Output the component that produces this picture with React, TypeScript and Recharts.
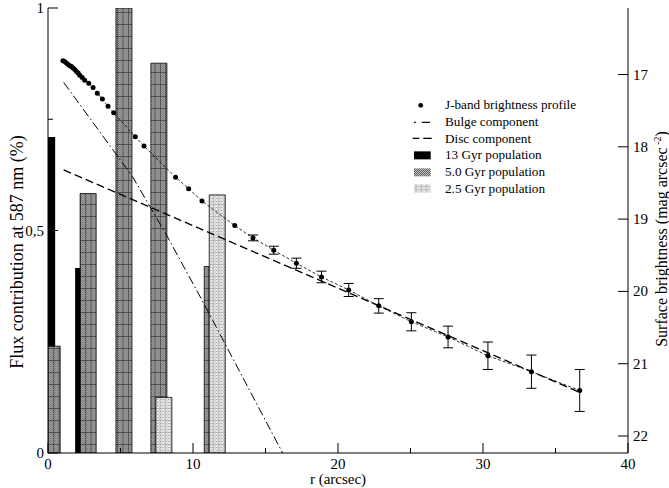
import { ComposedChart, Bar, Line, XAxis, YAxis, Legend, ErrorBar, Label } from "recharts";

// radial bins of the population synthesis (arcsec) and flux fractions
const binR = [0.32, 2.8, 5.27, 7.68, 11.36];
const pop13 = [0.71, 0.416, 0, 0, 0];
const pop50 = [0.24, 0.583, 1.0, 0.876, 0.419];
const pop25 = [0, 0, 0, 0.125, 0.58];

// J-band surface brightness profile (mag arcsec^-2)
const jR = [1.03, 1.15, 1.27, 1.39, 1.5, 1.62, 1.73, 1.85, 1.96, 2.08, 2.19, 2.36, 2.53, 2.81, 3.11, 3.4, 3.75, 4.14, 4.53, 6.02, 6.62, 8.8, 9.7, 10.62, 12.88, 14.14, 15.57, 17.13, 18.86, 20.74, 22.81, 25.06, 27.59, 30.34, 33.34, 36.67];
const jMag = [16.81, 16.82, 16.84, 16.86, 16.88, 16.89, 16.91, 16.93, 16.96, 16.98, 17.01, 17.04, 17.08, 17.12, 17.18, 17.26, 17.34, 17.44, 17.53, 17.86, 17.99, 18.42, 18.58, 18.75, 19.09, 19.26, 19.43, 19.61, 19.8, 19.98, 20.2, 20.42, 20.63, 20.89, 21.11, 21.37];
const jErr = [null, null, null, null, null, null, null, null, null, null, null, null, null, null, null, null, null, null, null, null, null, null, null, null, null, 0.04, 0.055, 0.07, 0.08, 0.09, 0.1, 0.125, 0.15, 0.19, 0.23, 0.29];

// model components
const bulgeR = [1.08, 5.82, 8.17, 10.62, 16.3];
const bulgeMag = [17.11, 18.41, 19.22, 20.12, 22.28];
const discR = [1.08, 36.6];
const discMag = [18.32, 21.39];

const xTicks = [0, 5, 10, 15, 20, 25, 30, 35, 40];
const leftTicks = [0, 0.25, 0.5, 0.75, 1];
const rightTicks = [17, 18, 19, 20, 21, 22];

const barData = binR.map((r, i) => ({ r, p13: pop13[i], p50: pop50[i], p25: pop25[i] }));
const jData = jR.map((r, i) => ({ r, mag: jMag[i], err: jErr[i] }));
const bulgeData = bulgeR.map((r, i) => ({ r, mag: bulgeMag[i] }));
const discData = discR.map((r, i) => ({ r, mag: discMag[i] }));

const FONT = '"Liberation Serif", "DejaVu Serif", Times, serif';

const BottomTick = (props: any) => {
  const { x, y, payload } = props;
  const major = payload.value % 10 === 0;
  return (
    <g>
      <line x1={x} x2={x} y1={y} y2={y - (major ? 10 : 5)} stroke="#000" />
      {major && (
        <text x={x} y={y + 16} textAnchor="middle" fontSize={15} fontFamily={FONT} fill="#000">
          {payload.value}
        </text>
      )}
    </g>
  );
};

const TopTick = (props: any) => {
  const { x, y, payload } = props;
  const major = payload.value % 10 === 0;
  return <line x1={x} x2={x} y1={y} y2={y + (major ? 10 : 5)} stroke="#000" />;
};

const LeftTick = (props: any) => {
  const { x, y, payload } = props;
  const v = payload.value;
  const major = v === 0 || v === 0.5 || v === 1;
  return (
    <g>
      <line x1={x} x2={x + (major ? 10 : 5)} y1={y} y2={y} stroke="#000" />
      {major && (
        <text x={x - 4} y={y + 5} textAnchor="end" fontSize={15} fontFamily={FONT} fill="#000">
          {v === 0.5 ? "0,5" : String(v)}
        </text>
      )}
    </g>
  );
};

const RightTick = (props: any) => {
  const { x, y, payload } = props;
  return (
    <g>
      <line x1={x - 10} x2={x} y1={y} y2={y} stroke="#000" />
      <text x={x + 5} y={y + 5} textAnchor="start" fontSize={15} fontFamily={FONT} fill="#000">
        {payload.value}
      </text>
    </g>
  );
};

const Patterns = () => (
  <svg width={0} height={0} style={{ position: "absolute" }}>
    <defs>
      <pattern id="chk50" width={2} height={2} patternUnits="userSpaceOnUse">
        <rect width={2} height={2} fill="#c4c4c4" />
        <rect width={1} height={1} fill="#5c5c5c" />
        <rect x={1} y={1} width={1} height={1} fill="#5c5c5c" />
      </pattern>
      <pattern id="p50" width={5.33} height={12} patternUnits="userSpaceOnUse">
        <rect width={5.33} height={12} fill="url(#chk50)" />
        <path d="M0 0.4H5.33M0.4 0V12" stroke="#333" strokeWidth={0.7} />
      </pattern>
      <pattern id="chk25" width={3} height={3} patternUnits="userSpaceOnUse">
        <rect width={3} height={3} fill="#efefef" />
        <rect width={1} height={1} fill="#777" />
        <rect x={1.5} y={1.5} width={1} height={1} fill="#999" />
      </pattern>
      <pattern id="p25" width={5.33} height={12} patternUnits="userSpaceOnUse">
        <rect width={5.33} height={12} fill="url(#chk25)" />
        <path d="M0 0.4H5.33M0.4 0V12" stroke="#aaa" strokeWidth={0.6} />
      </pattern>
    </defs>
  </svg>
);

const legendRows = [
  { key: "j", text: "J-band brightness profile" },
  { key: "bulge", text: "Bulge component" },
  { key: "disc", text: "Disc component" },
  { key: "p13", text: "13 Gyr population" },
  { key: "p50", text: "5.0 Gyr population" },
  { key: "p25", text: "2.5 Gyr population" },
];

const Swatch = ({ kind }: { kind: string }) => {
  const h = 16.7;
  const c = h / 2;
  let mark: any = null;
  if (kind === "j") mark = <circle cx={15.7} cy={c} r={2.4} fill="#000" />;
  else if (kind === "bulge")
    mark = (
      <g>
        <circle cx={10} cy={c} r={0.9} fill="#000" />
        <line x1={16.7} x2={25} y1={c} y2={c} stroke="#000" strokeWidth={1.2} />
      </g>
    );
  else if (kind === "disc")
    mark = (
      <g>
        <line x1={7.7} x2={14.3} y1={c} y2={c} stroke="#000" strokeWidth={1.3} />
        <line x1={18.3} x2={26.7} y1={c} y2={c} stroke="#000" strokeWidth={1.3} />
      </g>
    );
  else {
    const fill = kind === "p13" ? "#000" : kind === "p50" ? "url(#chk50)" : "url(#p25)";
    mark = <rect x={9} y={c - 4} width={16.7} height={8} fill={fill} />;
  }
  return (
    <svg width={36} height={h} style={{ display: "block" }}>
      {mark}
    </svg>
  );
};

const LegendBox = () => (
  <div style={{ fontFamily: FONT, fontSize: 13.2, color: "#000" }}>
    {legendRows.map((row) => (
      <div key={row.key} style={{ height: 16.7, display: "flex", alignItems: "center" }}>
        <Swatch kind={row.key} />
        <span style={{ marginLeft: 4, whiteSpace: "nowrap" }}>{row.text}</span>
      </div>
    ))}
  </div>
);

export default function App() {
  return (
    <div style={{ position: "relative", width: 669, height: 488, background: "#fff" }}>
      <style>{"body{margin:0}"}</style>
      <Patterns />
      <ComposedChart
        width={669}
        height={488}
        data={barData}
        margin={{ top: 8, right: 0, bottom: 0, left: 0 }}
        barSize={16}
        barGap={-11}
      >
        <XAxis
          dataKey="r"
          type="number"
          domain={[0, 40]}
          ticks={xTicks}
          interval={0}
          allowDataOverflow
          height={35}
          tickSize={0}
          tickMargin={0}
          tickLine={false}
          tick={<BottomTick />}
          axisLine={{ stroke: "#000" }}
        >
          <Label
            content={(p: any) => (
              <text
                x={p.viewBox.x + p.viewBox.width / 2}
                y={p.viewBox.y + 31}
                textAnchor="middle"
                fontSize={15}
                fontFamily={FONT}
                fill="#000"
              >
                r (arcsec)
              </text>
            )}
          />
        </XAxis>
        {/* top frame axis, also carries the bars so their band size ignores the dense profile points */}
        <XAxis
          xAxisId="top"
          orientation="top"
          dataKey="r"
          type="number"
          domain={[0, 40]}
          ticks={xTicks}
          interval={0}
          allowDataOverflow
          height={0}
          tickSize={0}
          tickMargin={0}
          tickLine={false}
          tick={<TopTick />}
          axisLine={{ stroke: "#000" }}
        />
        <YAxis
          yAxisId="left"
          type="number"
          domain={[0, 1]}
          ticks={leftTicks}
          interval={0}
          allowDataOverflow
          width={48}
          tickSize={0}
          tickMargin={0}
          tickLine={false}
          tick={<LeftTick />}
          axisLine={{ stroke: "#000" }}
        >
          <Label
            content={(p: any) => (
              <text
                transform={`translate(${p.viewBox.x + 23}, 252) rotate(-90)`}
                textAnchor="middle"
                fontSize={18}
                fontFamily={FONT}
                fill="#000"
              >
                Flux contribution at 587 nm (%)
              </text>
            )}
          />
        </YAxis>
        <YAxis
          yAxisId="right"
          orientation="right"
          type="number"
          reversed
          domain={[16.08, 22.235]}
          ticks={rightTicks}
          interval={0}
          allowDataOverflow
          width={41}
          tickSize={0}
          tickMargin={0}
          tickLine={false}
          tick={<RightTick />}
          axisLine={{ stroke: "#000" }}
        >
          <Label
            content={(p: any) => (
              <text
                transform={`translate(${p.viewBox.x + 38.5}, 239) rotate(-90)`}
                textAnchor="middle"
                fontSize={16}
                fontFamily={FONT}
                fill="#000"
              >
                Surface brightness (mag arcsec
                <tspan dy={-6} fontSize={10}> -2</tspan>
                <tspan dy={6}>)</tspan>
              </text>
            )}
          />
        </YAxis>

        <Line
          data={discData}
          dataKey="mag"
          yAxisId="right"
          stroke="#000"
          strokeWidth={1.3}
          strokeDasharray="8 4"
          dot={false}
          isAnimationActive={false}
          legendType="none"
        />
        <Line
          data={bulgeData}
          dataKey="mag"
          yAxisId="right"
          stroke="#000"
          strokeWidth={1}
          strokeDasharray="9 3 1.5 3"
          dot={false}
          isAnimationActive={false}
          legendType="none"
        />
        <Line
          data={jData}
          dataKey="mag"
          yAxisId="right"
          stroke="#000"
          strokeWidth={0.8}
          strokeDasharray="3 2"
          dot={{ r: 2.5, fill: "#000", stroke: "none" }}
          isAnimationActive={false}
          legendType="none"
        >
          <ErrorBar dataKey="err" direction="y" width={5} stroke="#000" strokeWidth={1} />
        </Line>

        <Bar dataKey="p13" xAxisId="top" yAxisId="left" fill="#000" isAnimationActive={false} />
        <Bar dataKey="p50" xAxisId="top" yAxisId="left" fill="url(#p50)" stroke="#000" strokeWidth={0.8} isAnimationActive={false} />
        <Bar dataKey="p25" xAxisId="top" yAxisId="left" fill="url(#p25)" stroke="#000" strokeWidth={0.8} isAnimationActive={false} />

        <Legend
          layout="vertical"
          align="center"
          verticalAlign="middle"
          wrapperStyle={{ left: 405, top: 97, width: 220 }}
          content={() => <LegendBox />}
        />
      </ComposedChart>
    </div>
  );
}
